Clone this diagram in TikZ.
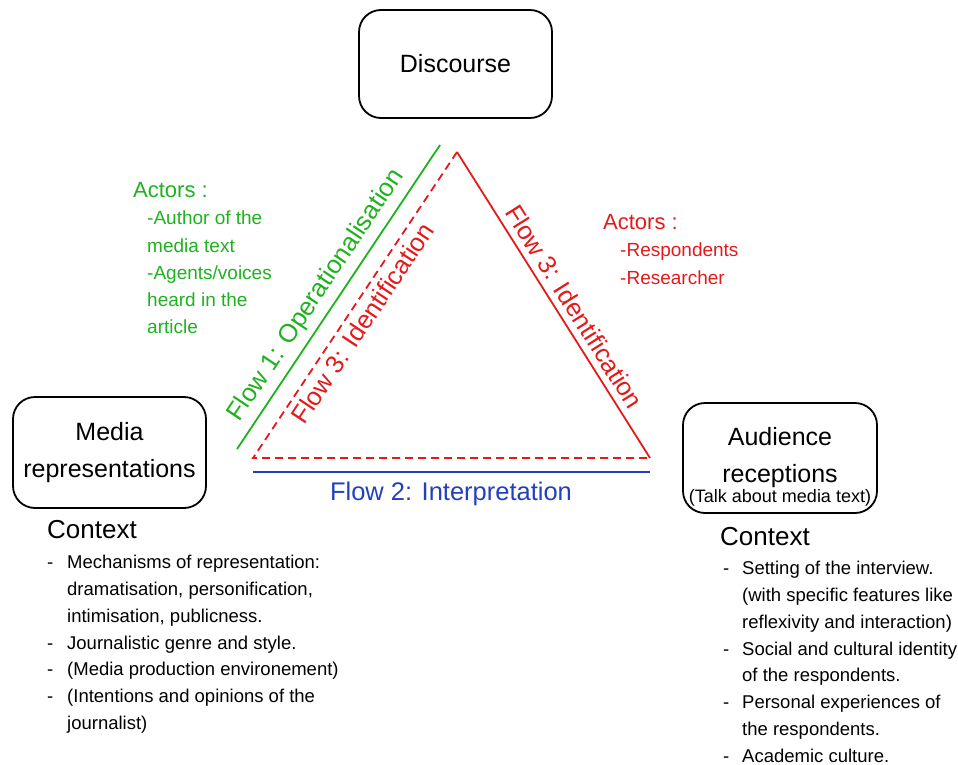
\documentclass[tikz,border=0pt]{standalone}
\usepackage{fontspec}
\setmainfont{Liberation Sans}
\usetikzlibrary{calc}
\definecolor{flowgreen}{RGB}{30,178,30}
\definecolor{flowred}{RGB}{228,26,26}
\definecolor{flowblue}{RGB}{34,64,190}
\newcommand\fsz[2]{\fontsize{#1}{#2}\selectfont}
\newcommand\lidash[1]{\makebox[#1][l]{-}}
\begin{document}
\begin{tikzpicture}[x=1pt,y=-1pt,
  stage/.style={draw=black, line width=1.8pt, rounded corners=22pt,
    minimum width=193pt, minimum height=108pt, align=center,
    inner sep=0pt, font=\fsz{25}{37}},
  flowlabel/.style={font=\fsz{25.5}{30}, sloped, inner sep=6.5pt},
  flowline/.style={line width=1.8pt},
  actorhead/.style={font=\fsz{22}{26}, inner sep=0pt, anchor=west},
  actorlist/.style={font=\fsz{19}{27.2}, inner sep=0pt, anchor=north west, align=left},
  ctxhead/.style={font=\fsz{26}{30}, inner sep=0pt, anchor=west},
  ctxlist/.style={font=\fsz{18.5}{26.8}, inner sep=0pt, anchor=north west, align=left}
]
\useasboundingbox (0,0) rectangle (958,765);

% the three stages
\node[stage] (disc) at (455.5,64) {Discourse};
\node[stage, minimum height=111pt] (media) at (109.5,452.5) {Media\\representations};
\node[stage, minimum width=194pt, minimum height=110pt] (aud) at (780,458) {Audience\\receptions};
\node[font=\fsz{18}{20}, inner sep=0pt] (talk) at (780,498) {(Talk about media text)};

% triangle corners and flow lines
\coordinate (apex) at (457,152);
\coordinate (dl) at (253,458);
\coordinate (dr) at (650,458);
\coordinate (g1) at (237,449);
\coordinate (g2) at (440,145);
\coordinate (b1) at (253,472);
\coordinate (b2) at (650,472);

\draw[flowline, flowred] (apex) -- node[flowlabel, above, text=flowred, pos=0.535] (f3r) {Flow 3: Identification} (dr);
\draw[flowline, flowred, dash pattern=on 8pt off 5pt] (apex) -- (dl) -- (dr);
\path (dl) -- node[flowlabel, below, text=flowred, pos=0.47] (f3l) {Flow 3: Identification} (apex);
\draw[flowline, flowgreen] (g1) -- node[flowlabel, above, text=flowgreen, pos=0.47] (f1) {Flow 1: Operationalisation} (g2);
\draw[flowline, flowblue] (b1) -- (b2);
\node[font=\fsz{25.5}{30}, text=flowblue] (f2) at (451,494) {Flow 2: Interpretation};

% actors
\node[actorhead, text=flowgreen] (gah) at (133,190) {Actors :};
\node[actorlist, text=flowgreen] (gal) at (147,211) {-Author of the\\media text\\-Agents/voices\\heard in the\\article};
\node[actorhead, text=flowred] (rah) at (603,222) {Actors :};
\node[actorlist, text=flowred] (ral) at (620,243) {-Respondents\\-Researcher};

% contexts
\node[ctxhead] (lch) at (47,530) {Context};
\node[ctxlist] (lcl) at (47,555) {\lidash{20pt}Mechanisms of representation:\\
\hspace*{20pt}dramatisation, personification,\\
\hspace*{20pt}intimisation, publicness.\\
\lidash{20pt}Journalistic genre and style.\\
\lidash{20pt}(Media production environement)\\
\lidash{20pt}(Intentions and opinions of the\\
\hspace*{20pt}journalist)};

\node[ctxhead] (rch) at (720,537) {Context};
\node[ctxlist] (rcl) at (723,561) {\lidash{19pt}Setting of the interview.\\
\hspace*{19pt}(with specific features like\\
\hspace*{19pt}reflexivity and interaction)\\
\lidash{19pt}Social and cultural identity\\
\hspace*{19pt}of the respondents.\\
\lidash{19pt}Personal experiences of\\
\hspace*{19pt}the respondents.\\
\lidash{19pt}Academic culture.};
\end{tikzpicture}
\end{document}
